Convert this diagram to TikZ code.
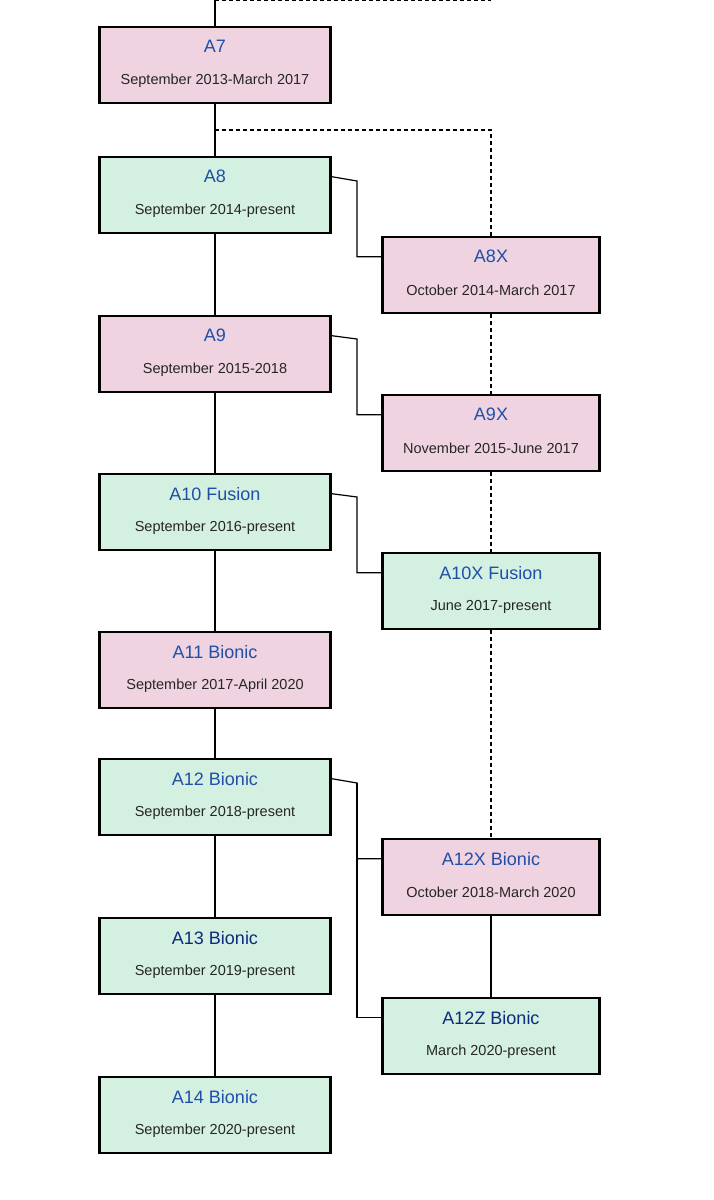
\documentclass[tikz,border=0pt]{standalone}
\usepackage{fontspec}
\setmainfont{Liberation Sans}
\usetikzlibrary{calc}
\definecolor{pinkf}{HTML}{EFD3E0}
\definecolor{greenf}{HTML}{D4F0E0}
\definecolor{tblue}{HTML}{1F4FA8}
\definecolor{tnavy}{HTML}{0D2A80}
\begin{document}
\begin{tikzpicture}[x=1pt,y=-1pt,
 box/.style={draw=black,line width=2.6pt,minimum width=231pt,minimum height=76pt,inner sep=0pt},
 rbox/.style={box,minimum width=217pt},
 pk/.style={fill=pinkf},gr/.style={fill=greenf},
 ttl/.style={font=\fontsize{18}{20}\selectfont,text=tblue},
 ttn/.style={font=\fontsize{18}{20}\selectfont,text=tnavy},
 sub/.style={font=\fontsize{14.5}{16}\selectfont,text=black!85},
 ln/.style={line width=1.2pt},
 dl/.style={line width=1.2pt,dash pattern=on 4pt off 3pt}]
\useasboundingbox (0,0) rectangle (713,1200);
% left column
\node[box,pk] (a7) at (215,65) {};
\node[box,gr] (a8) at (215,195) {};
\node[box,pk] (a9) at (215,354) {};
\node[box,gr] (a10) at (215,512) {};
\node[box,pk] (a11) at (215,670) {};
\node[box,gr] (a12) at (215,797) {};
\node[box,gr] (a13) at (215,956) {};
\node[box,gr] (a14) at (215,1115) {};
% right column
\node[rbox,pk] (a8x) at (491,275) {};
\node[rbox,pk] (a9x) at (491,433) {};
\node[rbox,gr] (a10x) at (491,591) {};
\node[rbox,pk] (a12x) at (491,877) {};
\node[rbox,gr] (a12z) at (491,1036) {};
% texts
\foreach \n/\t/\s/\st in {a7/A7/September 2013-March 2017/ttl, a8/A8/September 2014-present/ttl, a9/A9/September 2015-2018/ttl, a10/A10 Fusion/September 2016-present/ttl, a11/A11 Bionic/September 2017-April 2020/ttl, a12/A12 Bionic/September 2018-present/ttl, a13/A13 Bionic/September 2019-present/ttn, a14/A14 Bionic/September 2020-present/ttl, a8x/A8X/October 2014-March 2017/ttl, a9x/A9X/November 2015-June 2017/ttl, a10x/A10X Fusion/June 2017-present/ttl, a12x/A12X Bionic/October 2018-March 2020/ttl, a12z/A12Z Bionic/March 2020-present/ttn}{
 \node[\st] (\n t) at ($(\n.north)+(0,21)$) {\t};
 \node[sub] (\n s) at ($(\n.north)+(0,55)$) {\s};
}
% solid trunk
\coordinate (top) at (215,0);
\coordinate (topr) at (491,0);
\draw[ln] (top) -- (a7.north);
\draw[ln] (a7.south) -- (a8.north);
\draw[ln] (a8.south) -- (a9.north);
\draw[ln] (a9.south) -- (a10.north);
\draw[ln] (a10.south) -- (a11.north);
\draw[ln] (a11.south) -- (a12.north);
\draw[ln] (a12.south) -- (a13.north);
\draw[ln] (a13.south) -- (a14.north);
\draw[ln] (a12x.south) -- (a12z.north);
% dashed
\draw[dl] (top) -- (topr);
\coordinate (d1) at (215,130);
\draw[dl] (d1) -| (a8x.north);
\draw[dl] (a8x.south) -- (a9x.north);
\draw[dl] (a9x.south) -- (a10x.north);
\draw[dl] (a10x.south) -- (a12x.north);
% elbows
\draw[ln] (a8.east |- a8t) -- (357,181) |- (a8x.west |- a8xt);
\draw[ln] (a9.east |- a9t) -- (357,339) |- (a9x.west |- a9xt);
\draw[ln] (a10.east |- a10t) -- (357,497) |- (a10x.west |- a10xt);
\draw[ln] (a12.east |- a12t) -- (357,783) |- (a12x.west |- a12xt);
\draw[ln] (357,783) |- (a12z.west |- a12zt);
\end{tikzpicture}
\end{document}
